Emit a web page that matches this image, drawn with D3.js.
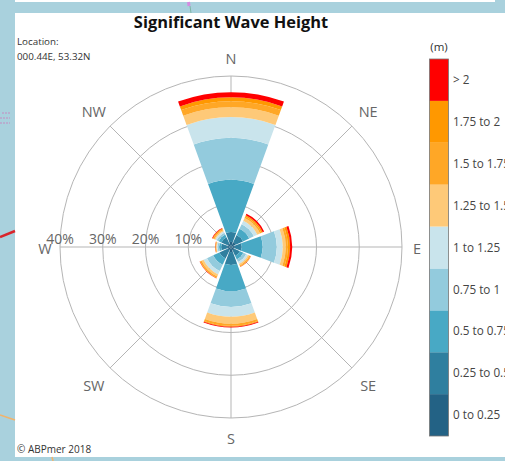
<!DOCTYPE html>
<html>
<head>
<title>Significant Wave Height</title>
<script src="https://d3js.org/d3.v7.min.js"></script>
<style>
  html, body { margin: 0; padding: 0; background: #a9d1dd; overflow: hidden; }
  svg { display: block; font-family: "Open Sans", sans-serif; }
</style>
</head>
<body>
<svg width="505" height="461"></svg>
<script>
var directions = ["N", "NE", "E", "SE", "S", "SW", "W", "NW"]
var classes = ["0 to 0.25", "0.25 to 0.5", "0.5 to 0.75", "0.75 to 1", "1 to 1.25", "1.25 to 1.5", "1.5 to 1.75", "1.75 to 2", "> 2"]
var colours = ["#236285", "#2f7f9f", "#48a9c5", "#93cbdd", "#c9e4ec", "#fec978", "#ffa726", "#ff9800", "#ff0000"]
var ringTicks = [10, 20, 30, 40]

// percent of time per height class, one value per direction (same order as directions)
var h0 = [1.2, 1.2, 0.9, 0.9, 1.2, 0.9, 0.9, 0.9]
var h1 = [2.3, 1.9, 1.6, 1.4, 3.0, 2.1, 1.4, 1.6]
var h2 = [12.2, 1.6, 4.9, 0.9, 6.1, 1.6, 0.5, 0.7]
var h3 = [9.8, 1.2, 3.3, 0.7, 3.7, 1.6, 0.35, 0.5]
var h4 = [4.9, 0.9, 1.4, 0.5, 2.3, 0.9, 0.25, 0.35]
var h5 = [2.3, 0.7, 0.7, 0.35, 1.6, 0.5, 0.1, 0.25]
var h6 = [1.4, 0.35, 0.5, 0.25, 0.5, 0.35, 0.1, 0.25]
var h7 = [0.9, 0.35, 0.5, 0.1, 0.2, 0.1, 0.1, 0.2]
var h8 = [1.2, 0.35, 0.5, 0.05, 0.2, 0.05, 0.05, 0.15]
var series = [h0, h1, h2, h3, h4, h5, h6, h7, h8]

var svg = d3.select("svg")
var cx = 231, cy = 247

// white panel on top of the map
svg.append("rect").attr("x", 15).attr("y", 0).attr("width", 480).attr("height", 2).attr("fill", "#fff")
svg.append("rect").attr("x", 15).attr("y", 13).attr("width", 490).attr("height", 444).attr("fill", "#fff")

// bits of map showing round the panel
svg.append("line").attr("x1", 0).attr("y1", 237).attr("x2", 15).attr("y2", 231)
  .attr("stroke", "#d9252b").attr("stroke-width", 2.5)
svg.append("line").attr("x1", 0).attr("y1", 415).attr("x2", 15).attr("y2", 420)
  .attr("stroke", "#f2b36b").attr("stroke-width", 1.5)
svg.append("line").attr("x1", 52).attr("y1", 457).attr("x2", 53).attr("y2", 461)
  .attr("stroke", "#f2b36b").attr("stroke-width", 1.5)
svg.append("line").attr("x1", 190).attr("y1", 6).attr("x2", 191).attr("y2", 13)
  .attr("stroke", "#7fb5a5")
svg.append("line").attr("x1", 188.5).attr("y1", 2).attr("x2", 189).attr("y2", 6)
  .attr("stroke", "#d58be0").attr("stroke-width", 3)
d3.range(3).forEach(function(i) {
  svg.append("line").attr("x1", i == 0 ? 2 : 0).attr("y1", 113 + i * 5).attr("x2", 10).attr("y2", 113 + i * 5)
    .attr("stroke", "#c58bc0").attr("stroke-dasharray", "2,1")
})

svg.append("text").attr("x", 231).attr("y", 28)
  .attr("text-anchor", "middle").attr("font-size", 16.4).attr("font-weight", 700).attr("fill", "#111")
  .text("Significant Wave Height")
svg.append("text").attr("x", 17).attr("y", 45).attr("font-size", 9.8).attr("fill", "#333").text("Location:")
svg.append("text").attr("x", 17).attr("y", 60).attr("font-size", 9.8).attr("fill", "#333").text("000.44E, 53.32N")
svg.append("text").attr("x", 17).attr("y", 453).attr("font-size", 10).attr("fill", "#333").text("\u00a9 ABPmer 2018")

var r = d3.scaleLinear().domain([0, 40]).range([0, 171])
var angle = d3.scaleBand().domain(directions).range([-Math.PI / 8, 2 * Math.PI - Math.PI / 8])

var chart = svg.append("g").attr("transform", "translate(" + cx + "," + cy + ")")

chart.selectAll(".ring")
  .data(ringTicks)
  .enter().append("circle")
  .attr("class", "ring")
  .attr("r", function(d) { return r(d); })
  .attr("fill", "none")
  .attr("stroke", "#b5b5b5")

function mid(d) { return angle(d) + angle.bandwidth() / 2; }

chart.selectAll(".spoke")
  .data(directions)
  .enter().append("line")
  .attr("class", "spoke")
  .attr("x2", function(d) { return Math.sin(mid(d)) * r(40); })
  .attr("y2", function(d) { return -Math.cos(mid(d)) * r(40); })
  .attr("stroke", "#b5b5b5")

// stack the classes outwards for each direction
var rows = directions.map(function(d, i) {
  var row = { dir: d };
  classes.forEach(function(c, k) { row[c] = series[k][i]; });
  return row;
})
var stacked = d3.stack().keys(classes)(rows)

var arc = d3.arc()
  .innerRadius(function(d) { return r(d[0]); })
  .outerRadius(function(d) { return r(d[1]); })
  .startAngle(function(d) { return mid(d.data.dir) - 20 * Math.PI / 180; })
  .endAngle(function(d) { return mid(d.data.dir) + 20 * Math.PI / 180; })

chart.selectAll(".layer")
  .data(stacked)
  .enter().append("g")
  .attr("class", "layer")
  .attr("fill", function(d, i) { return colours[i]; })
  .selectAll("path")
  .data(function(d) { return d; })
  .enter().append("path")
  .attr("d", arc)

// labels sit further out on the diagonals
function labelR(d) {
  if (d.length == 2) return 194;
  return (d == "E" || d == "W") ? 186 : 190;
}

chart.selectAll(".dir")
  .data(directions)
  .enter().append("text")
  .attr("class", "dir")
  .attr("x", function(d) { return Math.sin(mid(d)) * labelR(d); })
  .attr("y", function(d) { return -Math.cos(mid(d)) * labelR(d) + 2; })
  .attr("dy", "0.36em")
  .attr("text-anchor", "middle")
  .attr("font-size", 14.5)
  .attr("fill", "#666")
  .text(function(d) { return d; })

chart.selectAll(".tick-label")
  .data(ringTicks)
  .enter().append("text")
  .attr("class", "tick-label")
  .attr("x", function(d) { return -r(d); })
  .attr("y", -3)
  .attr("text-anchor", "middle")
  .attr("font-size", 14)
  .attr("fill", "#666")
  .text(function(d) { return d + "%"; })

// legend
var legendY = d3.scaleBand().domain(classes.slice().reverse()).range([59, 436])
var legend = svg.append("g")

legend.selectAll("rect")
  .data(classes)
  .enter().append("rect")
  .attr("x", 429.5)
  .attr("y", function(d) { return legendY(d); })
  .attr("width", 19)
  .attr("height", legendY.bandwidth())
  .attr("fill", function(d, i) { return colours[i]; })

legend.append("rect").attr("x", 429.5).attr("y", 59).attr("width", 19).attr("height", 377)
  .attr("fill", "none").attr("stroke", "#777").attr("stroke-width", 0.8)

legend.selectAll("text")
  .data(classes)
  .enter().append("text")
  .attr("x", 453)
  .attr("y", function(d) { return legendY(d) + legendY.bandwidth() / 2; })
  .attr("dy", "0.36em")
  .attr("font-size", 11.7)
  .attr("fill", "#444")
  .text(function(d) { return d; })

svg.append("text").attr("x", 439).attr("y", 51).attr("text-anchor", "middle")
  .attr("font-size", 11.5).attr("fill", "#333").text("(m)")
</script>
</body>
</html>
